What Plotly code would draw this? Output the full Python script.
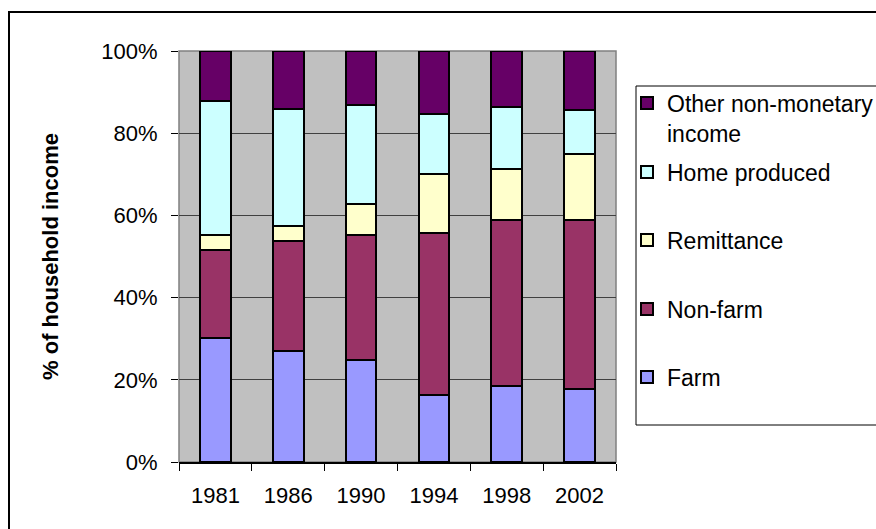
import plotly.graph_objects as go

years = ["1981", "1986", "1990", "1994", "1998", "2002"]
farm = [30.2, 27.0, 24.8, 16.3, 18.6, 17.7]
non_farm = [21.3, 26.8, 30.4, 39.3, 40.3, 41.2]
remittance = [3.8, 3.7, 7.6, 14.4, 12.4, 16.0]
home_produced = [32.5, 28.5, 24.1, 14.7, 15.1, 10.7]
other = [12.2, 14.0, 13.1, 15.3, 13.6, 14.4]

series = [
    ("Farm", farm, "#9999FF"),
    ("Non-farm", non_farm, "#993366"),
    ("Remittance", remittance, "#FFFFCC"),
    ("Home produced", home_produced, "#CCFFFF"),
    ("Other non-monetary<br>income", other, "#660066"),
]

W, H = 876, 529
L, R, T, B = 179, 616, 51, 462
pw, ph = R - L, B - T

def px(x):
    return (x - L) / pw

def py(y):
    return (B - y) / ph

# legend item centres (pixels)
leg_centres = [377, 309, 240, 172, 118]
leg_names = ["legend", "legend2", "legend3", "legend4", "legend5"]

fig = go.Figure()
for (name, vals, col), lg in zip(series, leg_names):
    fig.add_trace(go.Bar(
        x=years, y=vals, name=name, legend=lg,
        marker=dict(color=col, line=dict(color="black", width=2)),
        width=0.42,
    ))

leg_font = dict(family="Liberation Sans, Arial, sans-serif", size=23, color="black")
legends = {}
for lg, c in zip(leg_names, leg_centres):
    legends[lg] = dict(
        x=px(627), y=py(c), xanchor="left", yanchor="middle",
        bgcolor="rgba(0,0,0,0)", borderwidth=0, font=leg_font,
        valign="top", itemclick=False, itemdoubleclick=False,
    )

shapes = [
    # outer chart border
    dict(type="rect", xref="paper", yref="paper",
         x0=px(9), x1=px(900), y0=py(560), y1=py(12),
         line=dict(color="black", width=2), fillcolor="rgba(0,0,0,0)", layer="below"),
    # plot area border
    dict(type="rect", xref="paper", yref="paper", x0=0, x1=1, y0=0, y1=1,
         line=dict(color="#808080", width=1.5), layer="below"),
    # legend box
    dict(type="rect", xref="paper", yref="paper",
         x0=px(636), x1=px(900), y0=py(425), y1=py(86),
         line=dict(color="black", width=1), fillcolor="white", layer="below"),
]

fig.update_layout(
    width=W, height=H,
    margin=dict(l=L, r=W - R, t=T, b=H - B, pad=0, autoexpand=False),
    paper_bgcolor="white",
    plot_bgcolor="#C0C0C0",
    barmode="stack",
    font=dict(family="Liberation Sans, Arial, sans-serif", size=21, color="black"),
    showlegend=True,
    shapes=shapes,
    **legends,
)

fig.update_xaxes(
    type="category", tickson="boundaries", ticks="outside", ticklen=7,
    tickcolor="black", showline=True, linecolor="black", linewidth=1.5,
    showgrid=False, ticklabelstandoff=13,
    tickfont=dict(size=22),
)
fig.update_yaxes(
    range=[0, 100], dtick=20, ticksuffix="%", ticks="outside", ticklen=7,
    tickcolor="black", showline=False, showgrid=True, gridcolor="#404040",
    gridwidth=1, zeroline=False, ticklabelstandoff=9,
    tickfont=dict(size=22),
    title=dict(text="<b>% of household income</b>", font=dict(size=22), standoff=36),
)

fig.write_html("out.html")
